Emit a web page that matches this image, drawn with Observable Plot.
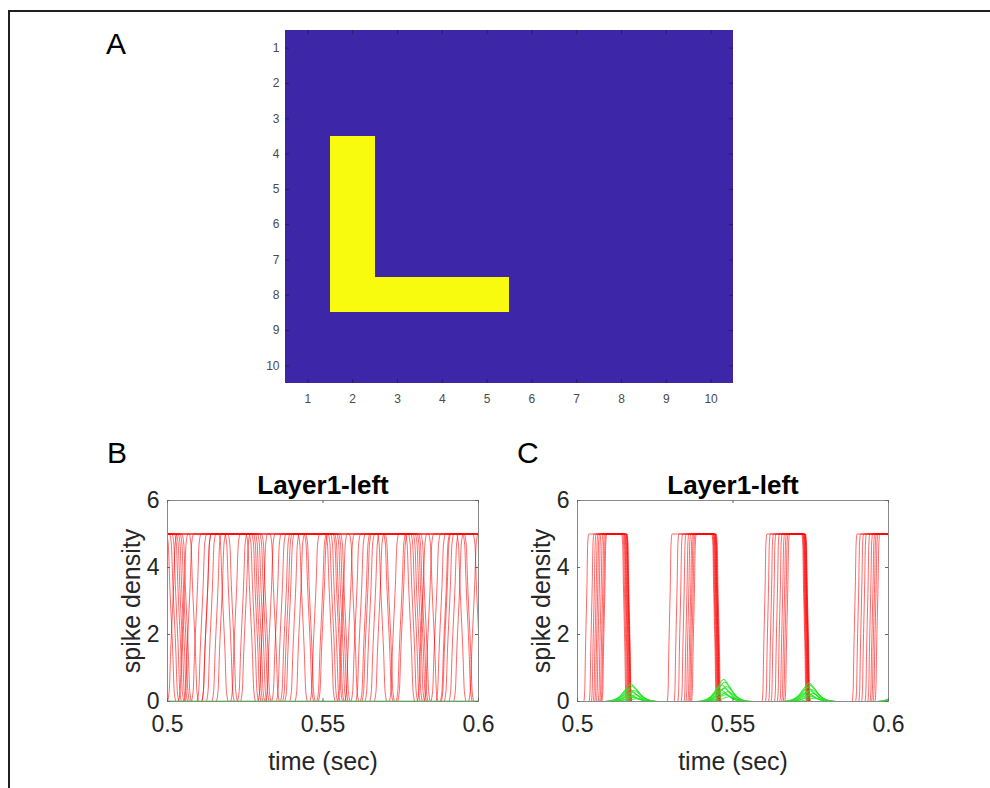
<!DOCTYPE html>
<html><head><meta charset="utf-8">
<script src="https://cdn.jsdelivr.net/npm/d3@7"></script>
<script src="https://cdn.jsdelivr.net/npm/@observablehq/plot@0.6"></script>
<style>
body{margin:0;background:#fff;width:990px;height:788px;overflow:hidden;position:relative;font-family:"Liberation Sans",Arial,sans-serif;}
#frame{position:absolute;left:8px;top:10px;width:1100px;height:900px;border-left:2.5px solid #231f20;border-top:2.5px solid #231f20;}
.panel{position:absolute;}
.letter{position:absolute;font-size:30px;line-height:30px;color:#000;}
</style></head><body>
<div id="frame"></div>
<div class="letter" style="left:106px;top:28.6px">A</div>
<div class="letter" style="left:107px;top:437.6px">B</div>
<div class="letter" style="left:517px;top:437.6px">C</div>
<div id="pa" class="panel" style="left:255px;top:30px"></div>
<div id="pb" class="panel" style="left:80px;top:460px"></div>
<div id="pc" class="panel" style="left:490px;top:460px"></div>
<script>
// ---------- Panel A data ----------
const heatTicks = [1,2,3,4,5,6,7,8,9,10];
const heatRows = [
  [0,0,0,0,0,0,0,0,0,0],
  [0,0,0,0,0,0,0,0,0,0],
  [0,0,0,0,0,0,0,0,0,0],
  [0,1,0,0,0,0,0,0,0,0],
  [0,1,0,0,0,0,0,0,0,0],
  [0,1,0,0,0,0,0,0,0,0],
  [0,1,0,0,0,0,0,0,0,0],
  [0,1,1,1,1,0,0,0,0,0],
  [0,0,0,0,0,0,0,0,0,0],
  [0,0,0,0,0,0,0,0,0,0]
];
const heatColors = ["#3e26a8", "#f9fb0e"];

// ---------- Panels B/C shared ----------
const timeTicks = [0.5, 0.55, 0.6];
const timeTickLabels = ["0.5", "0.55", "0.6"];
const densityTicks = [0, 2, 4, 6];
const panelTitle = "Layer1-left";
const xLabel = "time (sec)";
const yLabel = "spike density";

// Red neurons, panel B: toggle times (alternate fall / rise from the start level)
const redBStartHigh = [1,1,1,1,1,1,1,1,1,1,0];
const redBToggles = [
  [0.5012,0.5050, 0.5268,0.5306, 0.5524,0.5562, 0.5780,0.5818],
  [0.5022,0.5068, 0.5278,0.5330, 0.5532,0.5585, 0.5790,0.5840],
  [0.5030,0.5092, 0.5286,0.5350, 0.5540,0.5605, 0.5798,0.5862],
  [0.5038,0.5110, 0.5292,0.5365, 0.5548,0.5620, 0.5805,0.5878],
  [0.5044,0.5125, 0.5298,0.5378, 0.5553,0.5635, 0.5812,0.5892],
  [0.5050,0.5140, 0.5305,0.5392, 0.5560,0.5650, 0.5818,0.5905],
  [0.5056,0.5158, 0.5312,0.5408, 0.5566,0.5665, 0.5823,0.5920],
  [0.5062,0.5172, 0.5318,0.5425, 0.5572,0.5680, 0.5830,0.5935, 0.5998],
  [0.5085,0.5125, 0.5200,0.5240, 0.5345,0.5385, 0.5455,0.5495, 0.5600,0.5640, 0.5710,0.5750, 0.5855,0.5895, 0.5965],
  [0.5180,0.5218, 0.5435,0.5473, 0.5690,0.5728, 0.5945,0.5983],
  [0.5015,0.5210, 0.5250,0.5460, 0.5500,0.5715, 0.5755,0.5970]
];
const redLevel = 5;

// Red neurons, panel C: rise and fall times per cycle
const redCRises = [
  [0.5028,0.5296,0.5601,0.5891],
  [0.5045,0.5318,0.5612,0.5902],
  [0.5052,0.5330,0.5622,0.5912],
  [0.5058,0.5341,0.5630,0.5921],
  [0.5063,0.5350,0.5641,0.5932],
  [0.5068,0.5356,0.5650,0.5941],
  [0.5074,0.5362,0.5658,0.5948],
  [0.5079,0.5366,0.5664,0.5953],
  [0.5083,0.5370,0.5669,0.5958],
  [0.5086,0.5374,0.5674,0.5964]
];
const redCFalls = [
  [0.5150,0.5440,0.5729],
  [0.5153,0.5442,0.5731],
  [0.5156,0.5444,0.5733],
  [0.5158,0.5446,0.5734],
  [0.5160,0.5447,0.5736],
  [0.5162,0.5449,0.5737],
  [0.5164,0.5450,0.5738,0.6006],
  [0.5165,0.5451,0.5739],
  [0.5166,0.5452,0.5740],
  [0.5167,0.5454,0.5741]
];

// Green neurons, panel C: bump peak times and heights
const greenCPeaks = [
  [0.5172,0.5470,0.5745,0.6040],
  [0.5176,0.5473,0.5748,0.6045],
  [0.5166,0.5464,0.5740,0.6050],
  [0.5182,0.5479,0.5753,0.6040],
  [0.5174,0.5471,0.5746,0.6055],
  [0.5162,0.5460,0.5736,0.6048],
  [0.5186,0.5483,0.5757,0.6060],
  [0.5169,0.5467,0.5743,0.6042],
  [0.5179,0.5476,0.5750,0.6052],
  [0.5190,0.5487,0.5761,0.6065]
];
const greenCHeights = [
  [0.52,0.66,0.55,0.35],
  [0.45,0.58,0.48,0.30],
  [0.38,0.50,0.42,0.25],
  [0.33,0.45,0.36,0.30],
  [0.28,0.40,0.32,0.20],
  [0.24,0.35,0.28,0.25],
  [0.20,0.30,0.24,0.18],
  [0.16,0.26,0.20,0.20],
  [0.12,0.20,0.15,0.15],
  [0.08,0.14,0.10,0.12]
];
// bump profile: [offset (s), fraction of peak]
const greenBumpShape = [[-0.0080,0],[-0.0055,0.08],[-0.0035,0.3],[-0.0015,0.75],[0,1],[0.0015,0.75],[0.0035,0.3],[0.0055,0.08],[0.0080,0]];
// edge profile of a red transition: [offset (fraction of half width), fraction of step]
const redEdgeShape = [[-1,0],[-0.6,0.06],[-0.3,0.3],[0.3,0.7],[0.6,0.94],[1,1]];
// Green neurons, panel B: flat at zero
const greenBFlat = [[0.5,0],[0.6,0]];

// ---------- build tables ----------
const heatCells = heatRows.flatMap((r, i) => r.map((v, j) => ({row: i + 1, col: j + 1, v})));

function togglePoints(start, toggles, level, hw, id) {
  let cur = start ? level : 0;
  const pts = [{t: 0.49, v: cur, id}];
  for (const T of toggles) {
    const nxt = cur ? 0 : level;
    for (const [o, f] of redEdgeShape) pts.push({t: T + o * hw, v: cur + (nxt - cur) * f, id});
    cur = nxt;
  }
  pts.push({t: 0.61, v: cur, id});
  return pts;
}
const redB = redBToggles.flatMap((tg, i) => togglePoints(redBStartHigh[i], tg, redLevel, 0.0016, "b" + i));
const redC = redCRises.flatMap((rs, i) => {
  const tg = [];
  rs.forEach((r, k) => { tg.push(r); if (redCFalls[i][k] !== undefined) tg.push(redCFalls[i][k]); });
  if (redCFalls[i][rs.length] !== undefined) tg.push(redCFalls[i][rs.length]);
  return togglePoints(0, tg, redLevel, 0.0008, "c" + i);
});
const greenC = greenCPeaks.flatMap((pk, i) => {
  const pts = [{t: 0.49, v: 0, id: "g" + i}];
  pk.forEach((p, k) => greenBumpShape.forEach(([dt, f]) => pts.push({t: p + dt, v: f * greenCHeights[i][k], id: "g" + i})));
  pts.push({t: 0.62, v: 0, id: "g" + i});
  return pts;
});
const greenB = greenBFlat.map(([t, v]) => ({t, v, id: "gb"}));

// ---------- Panel A ----------
const A_W = 448, A_H = 353;
const plotA = Plot.plot({
  width: 30 + A_W + 10, height: A_H + 35,
  marginLeft: 30, marginRight: 10, marginTop: 0, marginBottom: 35,
  style: {fontFamily: "'Liberation Sans', Arial, sans-serif", color: "#4a4a4a", background: "transparent"},
  x: {domain: [0.5, 10.5]},
  y: {domain: [0.5, 10.5], reverse: true},
  marks: [
    Plot.rect(heatCells, {x1: d => d.col - 0.5, x2: d => d.col + 0.5, y1: d => d.row - 0.5, y2: d => d.row + 0.5,
      fill: d => heatColors[d.v], shapeRendering: "crispEdges"}),
    Plot.tickX(heatTicks, {x: d => d, insetTop: A_H - 4, stroke: "#2a1a6a", strokeWidth: 1}),
    Plot.tickX(heatTicks, {x: d => d, insetBottom: A_H - 4, stroke: "#2a1a6a", strokeWidth: 1}),
    Plot.tickY(heatTicks, {y: d => d, insetRight: A_W - 4, stroke: "#2a1a6a", strokeWidth: 1}),
    Plot.tickY(heatTicks, {y: d => d, insetLeft: A_W - 4, stroke: "#2a1a6a", strokeWidth: 1}),
    Plot.axisX(heatTicks, {tickSize: 0, tickPadding: 11, fontSize: 12, tickFormat: d => String(d), label: null}),
    Plot.axisY(heatTicks, {tickSize: 0, tickPadding: 6, fontSize: 12, tickFormat: d => String(d), label: null})
  ]
});
document.getElementById("pa").appendChild(plotA);

// ---------- Panels B & C ----------
const P_W = 311, P_H = 201;
function linePanel(red, greens, greenWidth) {
  return Plot.plot({
    width: 87 + P_W + 30, height: 40 + P_H + 87,
    marginLeft: 87, marginRight: 30, marginTop: 40, marginBottom: 87,
    style: {fontFamily: "'Liberation Sans', Arial, sans-serif", color: "#262626", background: "transparent"},
    x: {domain: [0.5, 0.6]},
    y: {domain: [0, 6]},
    marks: [
      Plot.line(red, {x: "t", y: "v", z: "id", stroke: "#ff0000", strokeOpacity: 0.6, strokeWidth: 1, curve: "monotone-x", clip: true}),
      Plot.line(greens, {x: "t", y: "v", z: "id", stroke: "#22e622", strokeOpacity: 0.8, strokeWidth: greenWidth, curve: "monotone-x", clip: true}),
      Plot.frame({stroke: "#8a8a8a", strokeWidth: 1}),
      Plot.tickX(timeTicks, {x: d => d, insetTop: P_H - 3, stroke: "#666"}),
      Plot.tickX(timeTicks, {x: d => d, insetBottom: P_H - 3, stroke: "#666"}),
      Plot.tickY(densityTicks, {y: d => d, insetRight: P_W - 3, stroke: "#666"}),
      Plot.tickY(densityTicks, {y: d => d, insetLeft: P_W - 3, stroke: "#666"}),
      Plot.axisX(timeTicks, {tickSize: 0, tickPadding: 14, fontSize: 23, tickFormat: (d, i) => timeTickLabels[i], label: null}),
      Plot.axisY(densityTicks, {tickSize: 0, tickPadding: 8, fontSize: 23, tickFormat: d => String(d), label: null}),
      Plot.text([panelTitle], {text: d => d, frameAnchor: "top", lineAnchor: "middle", dy: -15, fontSize: 26, fontWeight: "bold", fill: "#000"}),
      Plot.text([xLabel], {text: d => d, frameAnchor: "bottom", lineAnchor: "middle", dy: 60, fontSize: 25, fill: "#262626"}),
      Plot.text([yLabel], {text: d => d, frameAnchor: "left", textAnchor: "middle", lineAnchor: "middle", rotate: -90, dx: -36, fontSize: 25, fill: "#262626"})
    ]
  });
}
document.getElementById("pb").appendChild(linePanel(redB, greenB, 2));
document.getElementById("pc").appendChild(linePanel(redC, greenC, 1.1));
</script>
</body></html>
